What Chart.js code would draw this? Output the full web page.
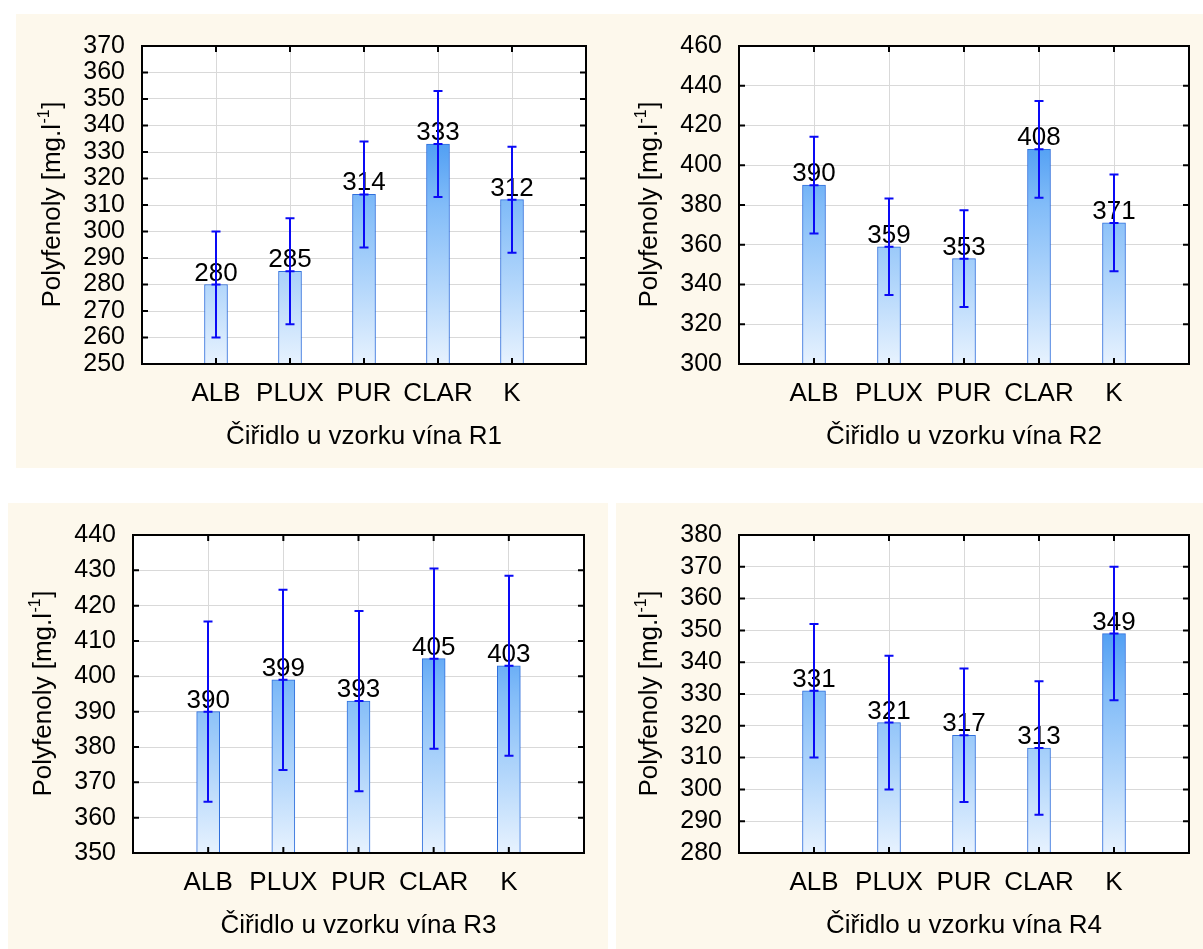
<!DOCTYPE html>
<html>
<head>
<meta charset="utf-8">
<script src="https://cdn.jsdelivr.net/npm/chart.js@4.4.1/dist/chart.umd.min.js"></script>
<style>
body { margin: 0; background: #fff; width: 1203px; height: 949px; position: relative; overflow: hidden; }
.bg { position: absolute; background: #fdf8ec; }
canvas { position: absolute; }
</style>
</head>
<body>
<div class="bg" style="left:16px;top:14px;width:1187px;height:454px"></div>
<div class="bg" style="left:8px;top:503px;width:600px;height:446px"></div>
<div class="bg" style="left:616px;top:503px;width:587px;height:446px"></div>
<canvas id="c1" width="584" height="454" style="left:16px;top:14px"></canvas>
<canvas id="c2" width="603" height="454" style="left:600px;top:14px"></canvas>
<canvas id="c3" width="600" height="446" style="left:8px;top:503px"></canvas>
<canvas id="c4" width="595" height="446" style="left:608px;top:503px"></canvas>
<script>
// data
var categories = ['ALB', 'PLUX', 'PUR', 'CLAR', 'K'];

var valuesR1 = [280, 285, 314, 333, 312];
var errorsR1 = [20, 20, 20, 20, 20];
var valuesR2 = [390, 359, 353, 408, 371];
var errorsR2 = [24.3, 24.3, 24.3, 24.3, 24.3];
var valuesR3 = [390, 399, 393, 405, 403];
var errorsR3 = [25.5, 25.5, 25.5, 25.5, 25.5];
var valuesR4 = [331, 321, 317, 313, 349];
var errorsR4 = [21, 21, 21, 21, 21];

// y axis: [min, max, step]
var yAxisR1 = [250, 370, 10];
var yAxisR2 = [300, 460, 20];
var yAxisR3 = [350, 440, 10];
var yAxisR4 = [280, 380, 10];

var xTitles = ['Čiřidlo u vzorku vína R1', 'Čiřidlo u vzorku vína R2',
               'Čiřidlo u vzorku vína R3', 'Čiřidlo u vzorku vína R4'];
var yTitleMain = 'Polyfenoly [mg.l';
var yTitleSup = '-1';
var yTitleEnd = ']';

var fontFam = '"Liberation Sans", Arial, sans-serif';
var errColor = '#0a0af5';

function drawYTitle(ctx, cx, cy) {
    ctx.save();
    ctx.translate(cx, cy);
    ctx.rotate(-Math.PI / 2);
    ctx.fillStyle = '#000';
    ctx.textBaseline = 'middle';
    ctx.textAlign = 'left';
    ctx.font = '26px ' + fontFam;
    var w1 = ctx.measureText(yTitleMain).width;
    var w3 = ctx.measureText(yTitleEnd).width;
    ctx.font = '16px ' + fontFam;
    var w2 = ctx.measureText(yTitleSup).width;
    var x0 = -(w1 + w2 + w3) / 2;
    ctx.font = '26px ' + fontFam;
    ctx.fillText(yTitleMain, x0, 0);
    ctx.fillText(yTitleEnd, x0 + w1 + w2 + 1, 0);
    ctx.font = '16px ' + fontFam;
    ctx.fillText(yTitleSup, x0 + w1 + 0.5, -8);
    ctx.restore();
}

var panelPlugin = {
    id: 'panel',
    beforeDraw: function (chart) {
        var a = chart.chartArea;
        var ctx = chart.ctx;
        ctx.save();
        ctx.fillStyle = '#fff';
        ctx.fillRect(a.left, a.top, a.right - a.left, a.bottom - a.top);
        ctx.restore();
    },
    afterDatasetsDraw: function (chart) {
        var ctx = chart.ctx;
        var xs = chart.scales.x, ys = chart.scales.y;
        var vals = chart.options.plugins.panel.values;
        var errs = chart.options.plugins.panel.errors;
        ctx.save();
        // value labels
        ctx.fillStyle = '#000';
        ctx.font = '26px ' + fontFam;
        ctx.textAlign = 'center';
        ctx.textBaseline = 'alphabetic';
        for (var i = 0; i < vals.length; i++) {
            var x = xs.getPixelForValue(i + 1);
            ctx.fillText(String(vals[i]), x, ys.getPixelForValue(vals[i]) - 4);
        }
        // error bars
        ctx.strokeStyle = errColor;
        ctx.lineWidth = 2;
        for (i = 0; i < vals.length; i++) {
            x = Math.round(xs.getPixelForValue(i + 1));
            var yv = ys.getPixelForValue(vals[i]);
            var yl = ys.getPixelForValue(vals[i] - errs[i]);
            var yh = ys.getPixelForValue(vals[i] + errs[i]);
            ctx.beginPath();
            ctx.moveTo(x, yl); ctx.lineTo(x, yh);
            ctx.moveTo(x - 4.5, yl); ctx.lineTo(x + 4.5, yl);
            ctx.moveTo(x - 4.5, yh); ctx.lineTo(x + 4.5, yh);
            ctx.moveTo(x - 4.5, yv); ctx.lineTo(x + 4.5, yv);
            ctx.stroke();
        }
        ctx.restore();
    },
    afterDraw: function (chart) {
        var ctx = chart.ctx;
        var a = chart.chartArea;
        var xs = chart.scales.x, ys = chart.scales.y;
        ctx.save();
        ctx.strokeStyle = '#000';
        ctx.lineWidth = 2;
        ctx.strokeRect(a.left, a.top, a.right - a.left, a.bottom - a.top);
        ctx.beginPath();
        ys.ticks.forEach(function (t) {
            var y = ys.getPixelForValue(t.value);
            ctx.moveTo(a.left, y); ctx.lineTo(a.left + 6, y);
            ctx.moveTo(a.right - 6, y); ctx.lineTo(a.right, y);
        });
        for (var i = 1; i <= categories.length; i++) {
            var x = xs.getPixelForValue(i);
            ctx.moveTo(x, a.bottom); ctx.lineTo(x, a.bottom - 6);
            ctx.moveTo(x, a.top); ctx.lineTo(x, a.top + 6);
        }
        ctx.stroke();
        // axis titles
        ctx.fillStyle = '#000';
        ctx.font = '26px ' + fontFam;
        ctx.textAlign = 'center';
        ctx.textBaseline = 'middle';
        ctx.fillText(chart.options.plugins.panel.xTitle, (a.left + a.right) / 2, a.bottom + 73);
        ctx.restore();
        drawYTitle(ctx, a.left - 89, (a.top + a.bottom) / 2);
    }
};

function barGradient(c) {
    var a = c.chart.chartArea;
    if (!a) return '#9ccbf8';
    var g = c.chart.ctx.createLinearGradient(0, a.bottom, 0, a.top);
    g.addColorStop(0, '#e7f2fe');
    g.addColorStop(0.25, '#b2d6fb');
    g.addColorStop(0.5, '#82bcf8');
    g.addColorStop(0.72, '#4a9bf3');
    g.addColorStop(1, '#2a84ee');
    return g;
}

function makeChart(id, values, errors, yAxis, xTitle, canv, plot) {
    var yW = plot.l - canv.x;
    var xH = canv.y + canv.h - plot.b;
    var labels = [''].concat(categories).concat(['']);
    var data = [null].concat(values).concat([null]);
    return new Chart(document.getElementById(id), {
        type: 'bar',
        data: {
            labels: labels,
            datasets: [{
                data: data,
                barThickness: 23,
                borderWidth: 1,
                borderColor: '#2f6fdc',
                backgroundColor: barGradient
            }]
        },
        options: {
            responsive: false,
            animation: false,
            events: [],
            devicePixelRatio: 1,
            layout: {
                padding: { left: 0, top: plot.t - canv.y, right: canv.x + canv.w - plot.r, bottom: 0 }
            },
            plugins: {
                legend: { display: false },
                tooltip: { enabled: false },
                panel: { values: values, errors: errors, xTitle: xTitle }
            },
            scales: {
                x: {
                    type: 'category',
                    offset: false,
                    grid: { color: '#d9d9d9', lineWidth: 1, drawTicks: false, offset: false },
                    border: { display: false },
                    ticks: { color: '#000', font: { size: 26, family: fontFam }, padding: 14, autoSkip: false, maxRotation: 0 },
                    afterFit: function (s) { s.height = xH; }
                },
                y: {
                    type: 'linear',
                    min: yAxis[0],
                    max: yAxis[1],
                    grid: { color: '#d9d9d9', lineWidth: 1, drawTicks: false },
                    border: { display: false },
                    ticks: { stepSize: yAxis[2], autoSkip: false, color: '#000', font: { size: 25, family: fontFam }, padding: 17 },
                    afterFit: function (s) { s.width = yW; }
                }
            }
        },
        plugins: [panelPlugin]
    });
}

makeChart('c1', valuesR1, errorsR1, yAxisR1, xTitles[0],
    { x: 16, y: 14, w: 584, h: 454 }, { l: 142, t: 45, r: 592, b: 364 });
makeChart('c2', valuesR2, errorsR2, yAxisR2, xTitles[1],
    { x: 600, y: 14, w: 603, h: 454 }, { l: 739, t: 45, r: 1190, b: 364 });
makeChart('c3', valuesR3, errorsR3, yAxisR3, xTitles[2],
    { x: 8, y: 503, w: 600, h: 446 }, { l: 133, t: 534, r: 584, b: 853 });
makeChart('c4', valuesR4, errorsR4, yAxisR4, xTitles[3],
    { x: 608, y: 503, w: 595, h: 446 }, { l: 739, t: 534, r: 1190, b: 853 });
</script>
</body>
</html>
